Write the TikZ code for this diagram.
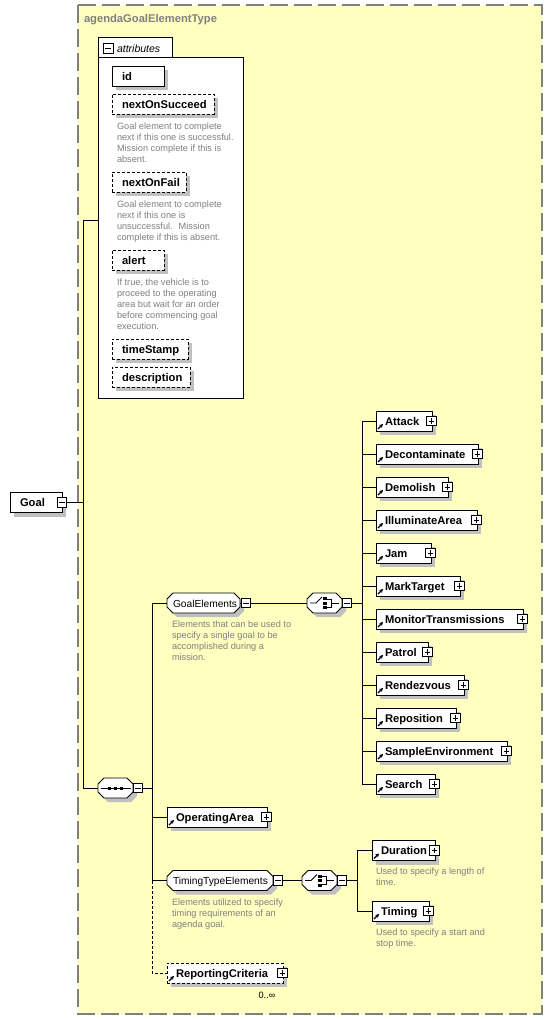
\documentclass[tikz,border=0pt]{standalone}
\usepackage{fontspec}
\setmainfont{Liberation Sans}
\usetikzlibrary{shadows,arrows.meta}
\pgfdeclarelayer{bottom}
\pgfdeclarelayer{mid}
\pgfsetlayers{bottom,mid,main}
\definecolor{typebg}{RGB}{255,255,192}
\definecolor{typeln}{RGB}{128,128,128}
\definecolor{desctxt}{RGB}{128,128,128}
\definecolor{shadowc}{RGB}{192,192,192}
\newcommand\chamferbox[2]{\draw[shad, fill=white, line width=0.8pt]
  ([xshift=#2]#1.north west) -- ([xshift=-#2]#1.north east) -- ([yshift=-#2]#1.north east)
  -- ([yshift=#2]#1.south east) -- ([xshift=-#2]#1.south east) -- ([xshift=#2]#1.south west)
  -- ([yshift=#2]#1.south west) -- ([yshift=-#2]#1.north west) -- cycle;}
\newcommand\choicesym[1]{%
  \draw[line width=0.8pt] ([xshift=-14.5]#1.center) -- ([xshift=-8.5]#1.center) -- ([shift={(-2.5,-6)}]#1.center);
  \foreach \dy in {-4.5,0,4.5} \fill ([shift={(-1.5,\dy-1.5)}]#1.center) rectangle ++(3.5,3);
  \draw[line width=0.8pt] ([shift={(2,-4)}]#1.center) -- ([shift={(7,-4)}]#1.center) -- ([shift={(7,4)}]#1.center) -- ([shift={(2,4)}]#1.center);
  \draw[line width=0.8pt] ([xshift=7]#1.center) -- ([xshift=14]#1.center);}
\tikzset{
  every node/.style={inner sep=0pt, outer sep=0pt},
  shad/.style={drop shadow={shadow xshift=4pt,shadow yshift=-4pt,fill=shadowc,opacity=1}},
  namefont/.style={font=\fontsize{11.2}{13}\selectfont\bfseries},
  elembase/.style={draw=black, fill=white, line width=0.8pt, shad, anchor=west, minimum height=20pt,
    align=left, inner ysep=0pt, text height=8.2pt, text depth=0pt, namefont},
  elem/.style={elembase, inner xsep=9pt, path picture={\draw[solid, line width=1.1pt,-{Stealth[length=3.8pt,width=4pt]}]
    ([shift={(2pt,2pt)}]path picture bounding box.south west) -- ++(5pt,5pt);}},
  attr/.style={elembase, inner xsep=10pt},
  optattr/.style={attr, dash pattern=on 3pt off 2pt},
  grpn/.style={anchor=west, minimum height=20pt, inner xsep=6pt, align=left,
    font=\fontsize{10.2}{12}\selectfont, text height=8pt, text depth=0pt},
  blank/.style={minimum width=35pt, minimum height=20pt},
  desc/.style={anchor=north west, align=left, text=desctxt, font=\fontsize{9.2}{11}\selectfont},
  minusb/.style={draw, solid, fill=white, minimum width=9.5pt, minimum height=9.5pt, line width=0.7pt,
    path picture={\draw[line width=0.7pt] ([xshift=2pt]path picture bounding box.west) -- ([xshift=-2pt]path picture bounding box.east);}},
  plusb/.style={draw, solid, fill=white, minimum width=9.5pt, minimum height=9.5pt, line width=0.7pt,
    path picture={\draw[line width=0.7pt] ([xshift=2pt]path picture bounding box.west) -- ([xshift=-2pt]path picture bounding box.east)
      ([yshift=-2pt]path picture bounding box.north) -- ([yshift=2pt]path picture bounding box.south);}},
  conn/.style={line width=0.8pt},
  optconn/.style={conn, dash pattern=on 3pt off 2pt},
}
\begin{document}
\begin{tikzpicture}[x=1pt,y=-1pt]
\useasboundingbox (0,0) rectangle (552,1020);
\begin{pgfonlayer}{bottom}
\fill[white] (0,0) rectangle (552,1020);
\draw[typeln, fill=typebg, line width=1.3pt, dash pattern=on 18pt off 6pt] (78,5) rectangle (542,1014);
\end{pgfonlayer}
\node[anchor=west, text=typeln, namefont, text height=8.2pt, text depth=0pt] (title) at (84,18.5) {agendaGoalElementType};

% Goal
\node[elembase, inner xsep=10pt, text width=32pt] (goal) at (10,502.5) {Goal};
\node[minusb] (goalm) at (goal.east) {};

% attributes
\node[draw, fill=white, line width=0.8pt, minimum width=145pt, minimum height=341pt, anchor=north west] (attrs) at (98,57) {};
\node[fill=white, minimum width=74pt, minimum height=19.8pt, anchor=south west] (attrtab) at (98,57.4) {};
\draw[conn] (attrtab.south west) -- (attrtab.north west) -- (attrtab.north east) -- (attrtab.south east);
\node[minusb, minimum width=10pt, minimum height=10pt] (attrm) at (108,48.5) {};
\node[anchor=west, font=\fontsize{10.5}{12}\selectfont\itshape, text height=7.6pt, text depth=0pt] (attrlbl) at (117,48.8) {attributes};

\node[attr, text width=32pt] (id) at (112,76) {id};
\node[optattr, text width=82pt] (nos) at (112,104) {nextOnSucceed};
\node[desc] (nosd) at (117,122.6) {Goal element to complete\\next if this one is successful.\\Mission complete if this is\\absent.};
\node[optattr, text width=54pt] (nof) at (112,182) {nextOnFail};
\node[desc] (nofd) at (117,200.6) {Goal element to complete\\next if this one is\\unsuccessful.~ Mission\\complete if this is absent.};
\node[optattr, text width=32pt] (alert) at (112,260) {alert};
\node[desc] (alertd) at (117,278.6) {If true, the vehicle is to\\proceed to the operating\\area but wait for an order\\before commencing goal\\execution.};
\node[optattr, text width=56pt] (ts) at (112,349) {timeStamp};
\node[optattr, text width=58pt] (descr) at (112,377) {description};

% sequence
\node[blank] (seq) at (115.5,788) {};
\node[minusb] (seqm) at ([xshift=5]seq.east) {};

% GoalElements group
\node[grpn, text width=61pt] (ge) at (167,603) {GoalElements};
\node[minusb] (gem) at ([xshift=6]ge.east) {};
\node[desc] (ged) at (172,620.6) {Elements that can be used to\\specify a single goal to be\\accomplished during a\\mission.};
\node[blank] (ch1) at (324.5,603) {};
\node[minusb] (ch1m) at ([xshift=5]ch1.east) {};

% choice elements
\node[elem, text width=38pt] (attack) at (376,421) {Attack};
\node[elem, text width=84pt] (deco) at (376,454) {Decontaminate};
\node[elem, text width=54pt] (demol) at (376,487) {Demolish};
\node[elem, text width=83pt] (illum) at (376,520) {IlluminateArea};
\node[elem, text width=37pt] (jam) at (376,553) {Jam};
\node[elem, text width=66pt] (mark) at (376,586) {MarkTarget};
\node[elem, text width=129pt] (monit) at (376,619) {MonitorTransmissions};
\node[elem, text width=34pt] (patrol) at (376,652) {Patrol};
\node[elem, text width=70pt] (rendez) at (376,685) {Rendezvous};
\node[elem, text width=62pt] (repos) at (376,718) {Reposition};
\node[elem, text width=113pt] (sample) at (376,751) {SampleEnvironment};
\node[elem, text width=41pt] (search) at (376,784) {Search};

% OperatingArea
\node[elem, text width=82pt] (oa) at (167,817) {OperatingArea};

% TimingTypeElements group
\node[grpn, text width=94pt] (tte) at (167,880.5) {TimingTypeElements};
\node[minusb] (ttem) at ([xshift=5]tte.east) {};
\node[desc] (tted) at (172,898.6) {Elements utilized to specify\\timing requirements of an\\agenda goal.};
\node[blank] (ch2) at (319.5,880.5) {};
\node[minusb] (ch2m) at ([xshift=5]ch2.east) {};
\node[elem, text width=45pt] (dur) at (372,850.5) {Duration};
\node[desc] (durd) at (376,867.6) {Used to specify a length of\\time.};
\node[elem, text width=39pt] (timing) at (372,911) {Timing};
\node[desc] (timingd) at (376,928.6) {Used to specify a start and\\stop time.};

% ReportingCriteria
\node[elem, dash pattern=on 3pt off 2pt, text width=98pt] (rc) at (167,973) {ReportingCriteria};
\node[font=\fontsize{9.2}{11}\selectfont] (rcmult) at (267,995) {0..∞};

% plus boxes
\foreach \n in {attack,deco,demol,illum,jam,mark,monit,patrol,rendez,repos,sample,search,oa,dur,timing,rc}
  \node[plusb] (\n-p) at ([xshift=-0.5]\n.east) {};

% chamfered outlines
\begin{pgfonlayer}{mid}
\chamferbox{seq}{6pt}
\chamferbox{ch1}{6pt}
\chamferbox{ch2}{6pt}
\chamferbox{ge}{6pt}
\chamferbox{tte}{6pt}
\end{pgfonlayer}

% symbols
\draw[conn] ([xshift=-15]seq.center) -- ([xshift=15]seq.center);
\foreach \dx in {-6,0,6} \fill ([shift={(\dx-1.5,-1.5)}]seq.center) rectangle ++(3,3);
\choicesym{ch1}
\choicesym{ch2}

% connectors
\coordinate (ta) at (83,220);
\coordinate (tb) at (83,788);
\draw[conn] (goalm.east) -- (goalm.east -| ta);
\draw[conn] (ta -| attrs.west) -- (ta) -- (tb) -- (seq.west);

\coordinate (ua) at (152,603);
\coordinate (ub) at (152,880.5);
\coordinate (uc) at (152,973);
\draw[conn] (seqm.east) -- (seqm.east -| ua);
\draw[conn] (ge.west) -- (ua) -- (ub) -- (tte.west);
\draw[conn] (oa.west) -- (oa.west -| ua);
\draw[optconn] (ub) -- (uc) -- (rc.west);

\draw[conn] (ge.east) -- (gem.west);
\draw[conn] (gem.east) -- (ch1.west);
\coordinate (va) at (362,421);
\coordinate (vb) at (362,784);
\draw[conn] (ch1m.east) -- (ch1m.east -| va);
\draw[conn] (va) -- (vb);
\foreach \n in {attack,deco,demol,illum,jam,mark,monit,patrol,rendez,repos,sample,search}
  \draw[conn] (\n.west) -- (\n.west -| va);

\draw[conn] (ttem.east) -- (ch2.west);
\coordinate (wa) at (357,850.5);
\coordinate (wb) at (357,911);
\draw[conn] (ch2m.east) -- (ch2m.east -| wa);
\draw[conn] (wa) -- (wb);
\draw[conn] (dur.west) -- (dur.west -| wa);
\draw[conn] (timing.west) -- (timing.west -| wa);
\end{tikzpicture}
\end{document}
